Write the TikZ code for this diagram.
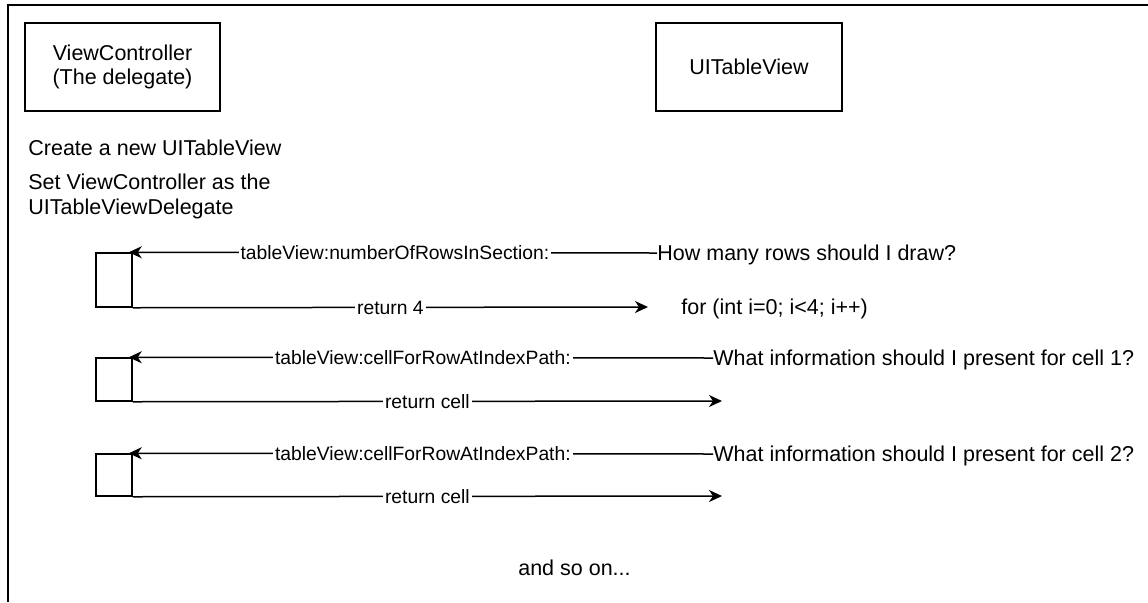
\documentclass[tikz,border=0pt]{standalone}
\usepackage{fontspec}
\setmainfont{Liberation Sans}
\usetikzlibrary{arrows.meta}
\begin{document}
\begin{tikzpicture}[x=0.5pt,y=-0.5pt,
  box/.style={draw, line width=0.75pt, minimum width=93pt, minimum height=44pt, inner sep=0pt, align=center, font=\fontsize{10.75}{12}\selectfont},
  txt/.style={anchor=west, inner sep=0pt, text height=7.7pt, text depth=0pt, font=\fontsize{10.75}{12}\selectfont},
  lbl/.style={fill=white, inner sep=1pt, text height=6.9pt, text depth=0pt, font=\fontsize{9.65}{11}\selectfont},
  msg/.style={line width=0.75pt, -{Stealth[length=6.5pt,width=6pt,inset=2pt]}},
  back/.style={msg, shorten >=-2pt},
  actbox/.style={draw, line width=0.75pt, minimum width=18pt, inner sep=0pt},
]
\useasboundingbox (0,0) rectangle (1148,602);
% frame
\draw[line width=1pt] (8,602) -- (8,5) -- (1148,5);

% lifeline heads
\node[box, minimum width=97.5pt] (vc) at (122.5,67) {ViewController\\(The delegate)};
\node[box] (tv) at (749,67) {UITableView};

\node[txt] (create) at (28,148) {Create a new UITableView};
\node[txt] (set1) at (28,182) {Set ViewController as the};
\node[txt] (set2) at (28,207) {UITableViewDelegate};

% group 1
\node[actbox, minimum height=27pt] (a1) at (114,280) {};
\node[txt] (q1) at (657,253) {How many rows should I draw?};
\node[txt] (f1) at (681,307) {for (int i=0; i<4; i++)};
\coordinate (r1) at (648,307);
\draw[back] (q1.west) -- (a1.north east) node[lbl, midway] {tableView:numberOfRowsInSection:};
\draw[msg] (a1.south east) -- (r1) node[lbl, midway] {return 4};

% group 2
\node[actbox, minimum height=21.5pt] (a2) at (114,379.5) {};
\node[txt] (q2) at (713,358) {What information should I present for cell 1?};
\coordinate (r2) at (722,401);
\draw[back] (q2.west) -- (a2.north east) node[lbl, midway] {tableView:cellForRowAtIndexPath:};
\draw[msg] (a2.south east) -- (r2) node[lbl, midway] {return cell};

% group 3
\node[actbox, minimum height=21pt] (a3) at (114,475) {};
\node[txt] (q3) at (713,454) {What information should I present for cell 2?};
\coordinate (r3) at (722,496);
\draw[back] (q3.west) -- (a3.north east) node[lbl, midway] {tableView:cellForRowAtIndexPath:};
\draw[msg] (a3.south east) -- (r3) node[lbl, midway] {return cell};

\node[txt, anchor=center] (more) at (574.5,568) {and so on...};
\end{tikzpicture}
\end{document}
